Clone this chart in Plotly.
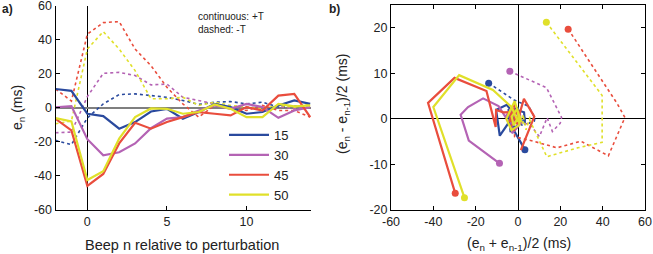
import numpy as np
import plotly.graph_objects as go

W, H = 653, 254

beeps = list(range(-2, 15))
levels = ["15", "30", "45", "50"]
colors = {"15": "#2a4a9e", "30": "#b463b4", "45": "#e94d3d", "50": "#e0e02a"}

# continuous: +T
pos_15 = [11.1, 10.0, -3.5, -4.9, -12.3, -8.4, -2.2, -0.6, -6.4, -2.5, 2.3, 0.4, -3.5, -2.5, 1.4, 4.3, 2.3]
pos_30 = [0.2, 1.0, -18.5, -28.0, -26.2, -21.0, -12.0, -6.4, -5.5, -1.6, 1.4, -0.6, 2.3, 0.4, -5.9, -1.6, 0.4]
pos_45 = [-6.5, -13.3, -46.0, -39.0, -21.0, -8.8, -12.3, -8.4, -5.5, -2.5, -3.5, -4.5, 0.4, -1.6, 7.2, 8.2, -5.5]
pos_50 = [-6.1, -8.0, -42.6, -37.4, -18.2, -5.5, -0.4, -0.6, -3.5, -2.5, 2.0, -0.6, -5.5, -5.5, 2.3, 0.8, 1.4]
# dashed: -T
neg_15 = [-19.2, -21.7, -6.0, 2.3, 7.8, 8.2, 7.2, 6.2, 4.3, 2.0, 3.3, 3.7, 2.3, 3.3, 0.4, 0.8, 1.4]
neg_30 = [-14.7, -14.3, 6.6, 20.3, 20.9, 19.0, 13.5, 14.0, 6.2, 4.3, 2.0, 0.4, 0.8, -0.6, 0.8, -0.6, 0.4]
neg_45 = [11.1, 4.0, 43.4, 50.2, 50.8, 34.6, 24.8, 12.1, 2.3, -5.5, 1.5, -0.6, -1.6, 1.4, -1.6, -1.6, -5.5]
neg_50 = [-9.4, -7.8, 34.6, 44.9, 34.6, 21.9, 5.3, 5.3, 6.2, 1.4, 3.3, 1.4, 0.4, -0.6, 1.4, 0.4, 2.0]

pos = {"15": pos_15, "30": pos_30, "45": pos_45, "50": pos_50}
neg = {"15": neg_15, "30": neg_30, "45": neg_45, "50": neg_50}

x_ticks_a = [0, 5, 10]
y_ticks_a = [-60, -40, -20, 0, 20, 40, 60]
x_ticks_b = [-60, -40, -20, 0, 20, 40, 60]
y_ticks_b = [-20, -10, 0, 10, 20]


def labels(vals):
    return [str(v) for v in vals]  # plain hyphen-minus as in the reference


def px(x):
    return x / W


def py(y):
    return 1 - y / H


fig = go.Figure()

# panel a
for lv in levels:
    fig.add_trace(go.Scatter(x=beeps, y=neg[lv], mode="lines",
                             line=dict(color=colors[lv], width=1.6, dash="dot"),
                             xaxis="x", yaxis="y", showlegend=False, hoverinfo="skip"))
for lv in levels:
    fig.add_trace(go.Scatter(x=beeps, y=pos[lv], mode="lines", name=lv,
                             line=dict(color=colors[lv], width=2.2),
                             xaxis="x", yaxis="y", showlegend=True))


# panel b: phase plane from n = 0 onward
def phase(e):
    e = np.array(e, dtype=float)
    i0 = beeps.index(0)
    cur = e[i0:]
    prev = e[i0 - 1:-1]
    return (cur + prev) / 2, (cur - prev) / 2


for lv in levels:
    for series, dash, wdt in ((neg[lv], "dot", 1.6), (pos[lv], "solid", 2.2)):
        sx, sy = phase(series)
        fig.add_trace(go.Scatter(x=sx, y=sy, mode="lines",
                                 line=dict(color=colors[lv], width=wdt, dash=dash),
                                 xaxis="x2", yaxis="y2", showlegend=False, hoverinfo="skip"))
        fig.add_trace(go.Scatter(x=[sx[0]], y=[sy[0]], mode="markers",
                                 marker=dict(color=colors[lv], size=7),
                                 xaxis="x2", yaxis="y2", showlegend=False, hoverinfo="skip"))

FAM = "Liberation Sans, Arial, sans-serif"
font = dict(family=FAM, size=12, color="#222")
tickfont = dict(family=FAM, size=12.5, color="#222")

ax_common = dict(showgrid=False, showline=True, linecolor="black", linewidth=1,
                 ticks="inside", ticklen=4, tickcolor="black", tickfont=tickfont,
                 automargin=False, ticklabeloverflow="allow")

fig.update_layout(
    width=W, height=H,
    margin=dict(l=0, r=0, t=0, b=0, autoexpand=False),
    paper_bgcolor="white", plot_bgcolor="white",
    font=font,
    xaxis=dict(domain=[px(55.5), px(311)], range=[-2, 14.05], tickvals=x_ticks_a,
               ticktext=labels(x_ticks_a),
               zeroline=True, zerolinecolor="black", zerolinewidth=1, anchor="y", **ax_common),
    yaxis=dict(domain=[py(209.6), py(6)], range=[-60, 60], tickvals=y_ticks_a,
               ticktext=labels(y_ticks_a),
               zeroline=True, zerolinecolor="#7f7f7f", zerolinewidth=2.5, anchor="x", **ax_common),
    xaxis2=dict(domain=[px(391), px(645)], range=[-60, 60], tickvals=x_ticks_b,
                ticktext=labels(x_ticks_b), mirror="ticks",
                zeroline=True, zerolinecolor="black", zerolinewidth=1, anchor="y2", **ax_common),
    yaxis2=dict(domain=[py(210), py(5)], range=[-20, 25], tickvals=y_ticks_b,
                ticktext=labels(y_ticks_b), mirror="ticks",
                zeroline=True, zerolinecolor="black", zerolinewidth=1, anchor="x2", **ax_common),
    legend=dict(x=px(224), y=py(120), xanchor="left", yanchor="top",
                bgcolor="rgba(0,0,0,0)", font=dict(family=FAM, size=13, color="#222"),
                itemwidth=40, tracegroupgap=0),
    showlegend=True,
)

ann = [
    dict(x=px(0), y=py(9), text="<b>a)</b>", xanchor="left", yanchor="middle", font=dict(size=12)),
    dict(x=px(327), y=py(9), text="<b>b)</b>", xanchor="left", yanchor="middle", font=dict(size=12)),
    dict(x=px(196), y=py(16), text="continuous: +T", xanchor="left", yanchor="middle", font=dict(size=10)),
    dict(x=px(196), y=py(29), text="dashed: -T", xanchor="left", yanchor="middle", font=dict(size=10)),
    dict(x=px(182), y=py(245), text="Beep n relative to perturbation", xanchor="center", yanchor="middle",
         font=dict(size=14.5)),
    dict(x=px(519), y=py(244), text="(e<sub>n</sub> + e<sub>n-1</sub>)/2 (ms)", xanchor="center",
         yanchor="middle", font=dict(size=14)),
    dict(x=px(18), y=py(108), text="e<sub>n</sub> (ms)", textangle=-90, xanchor="center", yanchor="middle",
         font=dict(size=14)),
    dict(x=px(343), y=py(104), text="(e<sub>n</sub> - e<sub>n-1</sub>)/2 (ms)", textangle=-90,
         xanchor="center", yanchor="middle", font=dict(size=14)),
]
for a in ann:
    a.update(xref="paper", yref="paper", showarrow=False)
    f = dict(font)
    f.update(a.get("font", {}))
    a["font"] = f
fig.update_layout(annotations=ann)

fig.write_html("out.html",
               config={"displayModeBar": False, "staticPlot": True},
               post_script="document.body.style.margin='0px';document.body.style.overflow='hidden';")
